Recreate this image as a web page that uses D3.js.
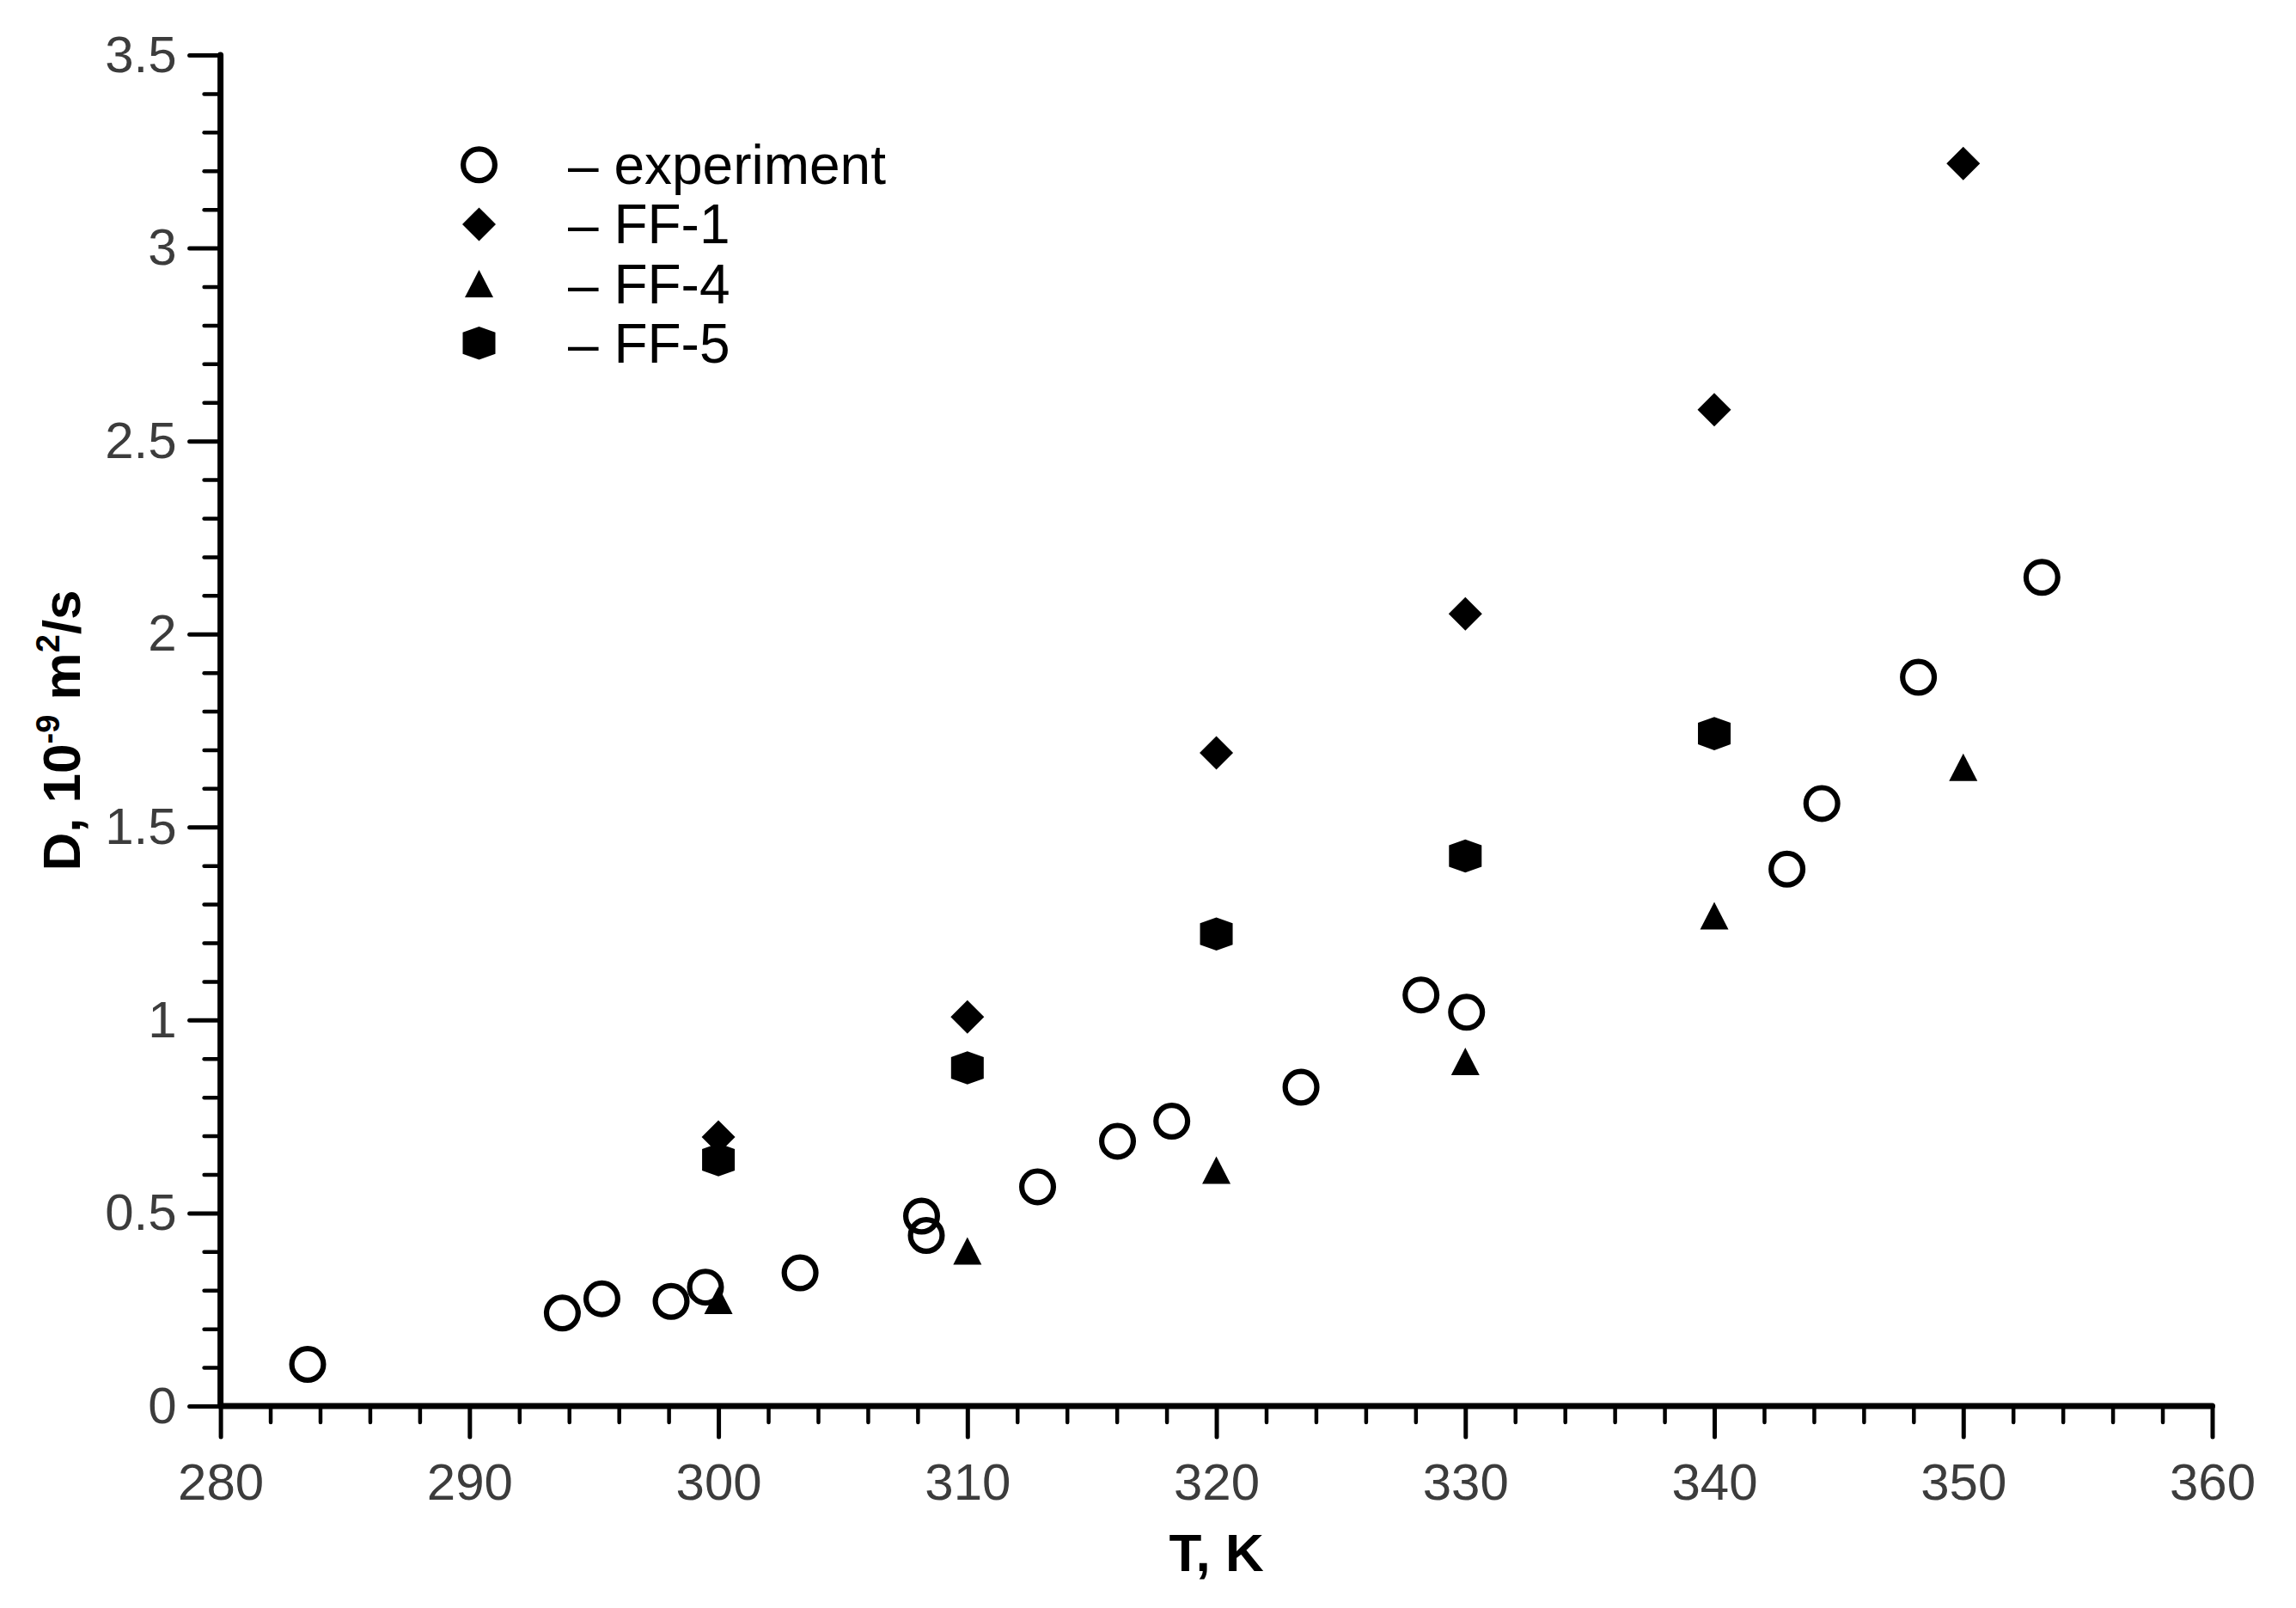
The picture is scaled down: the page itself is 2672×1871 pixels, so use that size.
<!DOCTYPE html>
<html>
<head>
<meta charset="utf-8">
<script src="https://cdn.jsdelivr.net/npm/d3@7"></script>
<style>
  body { margin: 0; background: #fff; }
  text { font-family: "Liberation Sans", Arial, sans-serif; }
</style>
</head>
<body>
<script>
// Data
var expT = [283.50, 293.73, 295.32, 298.10, 299.48, 303.28, 308.16, 308.35, 312.82, 316.03, 318.21, 323.40, 328.22, 330.05, 342.92, 344.32, 348.20, 353.16];
var expD = [0.108, 0.241, 0.278, 0.271, 0.308, 0.345, 0.492, 0.442, 0.568, 0.686, 0.738, 0.826, 1.065, 1.020, 1.391, 1.561, 1.888, 2.147];

var ff1T = [300, 310, 320, 330, 340, 350];
var ff1D = [0.697, 1.008, 1.692, 2.052, 2.581, 3.219];

var ff4T = [300, 310, 320, 330, 340, 350];
var ff4D = [0.274, 0.402, 0.611, 0.893, 1.270, 1.655];

var ff5T = [300, 310, 320, 330, 340];
var ff5D = [0.638, 0.876, 1.223, 1.425, 1.742];

var xTicks = [280, 290, 300, 310, 320, 330, 340, 350, 360];
var yTicks = [0, 0.5, 1, 1.5, 2, 2.5, 3, 3.5];
var legendLabels = ["experiment", "FF-1", "FF-4", "FF-5"];

// Set the dimensions and margins of the graph
var margin = {top: 64, right: 97.5, bottom: 235, left: 256.6},
    width = 2672 - margin.left - margin.right,
    height = 1871 - margin.top - margin.bottom;

var svg = d3.select("body")
  .append("svg")
    .attr("width", 2672)
    .attr("height", 1871)
  .append("g")
    .attr("transform", "translate(" + margin.left + "," + margin.top + ")");

var x = d3.scaleLinear().domain([280, 360]).range([0, width]);
var y = d3.scaleLinear().domain([0, 3.5]).range([height, 0]);

// marker shapes
var shapes = {
  circle: null,
  diamond: "M0,-19.5L19.5,0L0,19.5L-19.5,0Z",
  triangle: "M0,-16L16.5,16L-16.5,16Z",
  hexagon: "M0,-19.3L19,-12.5L19,12.5L0,19.3L-19,12.5L-19,-12.5Z"
};

function styleAxis(g, sw) {
  g.selectAll(".domain").remove();
  g.selectAll(".tick line")
    .attr("stroke", "#000")
    .attr("stroke-width", sw)
    .attr("stroke-linecap", "round");
  g.selectAll("text")
    .attr("fill", "#3c3c3c")
    .attr("font-size", 60);
}

// minor ticks
var xMinor = d3.range(280, 361, 2).filter(function(d) { return d % 10 !== 0; });
var yMinor = d3.range(0, 36).filter(function(d) { return d % 5 !== 0; }).map(function(d) { return d / 10; });

svg.append("g")
  .attr("transform", "translate(0," + height + ")")
  .call(d3.axisBottom(x).tickValues(xMinor).tickSize(19).tickSizeOuter(0).tickFormat(""))
  .call(styleAxis, 4.5);

svg.append("g")
  .call(d3.axisLeft(y).tickValues(yMinor).tickSize(19).tickSizeOuter(0).tickFormat(""))
  .call(styleAxis, 4.5);

// major ticks with labels
svg.append("g")
  .attr("transform", "translate(0," + height + ")")
  .call(d3.axisBottom(x).tickValues(xTicks).tickSize(36).tickPadding(30).tickSizeOuter(0)
    .tickFormat(function(d) { return String(d); }))
  .call(styleAxis, 5);

svg.append("g")
  .call(d3.axisLeft(y).tickValues(yTicks).tickSize(36).tickPadding(15).tickSizeOuter(0)
    .tickFormat(function(d) { return String(d); }))
  .call(styleAxis, 5);

// axis lines
svg.append("line")
  .attr("x1", 0).attr("x2", width)
  .attr("y1", height).attr("y2", height)
  .attr("stroke", "#000").attr("stroke-width", 7).attr("stroke-linecap", "round");
svg.append("line")
  .attr("x1", 0).attr("x2", 0)
  .attr("y1", 0).attr("y2", height)
  .attr("stroke", "#000").attr("stroke-width", 7).attr("stroke-linecap", "round");

// axis titles
svg.append("text")
  .attr("x", width / 2)
  .attr("y", 1828 - margin.top)
  .attr("text-anchor", "middle")
  .attr("font-size", 62)
  .attr("font-weight", "bold")
  .text("T, K");

var yTitle = svg.append("text")
  .attr("transform", "translate(" + (93 - margin.left) + "," + height / 2 + ") rotate(-90)")
  .attr("text-anchor", "middle")
  .attr("font-size", 62)
  .attr("font-weight", "bold");
yTitle.append("tspan").text("D, 10");
yTitle.append("tspan").attr("font-size", 38).attr("dy", -24).text("-9");
yTitle.append("tspan").attr("dy", 24).text(" m");
yTitle.append("tspan").attr("font-size", 38).attr("dy", -24).text("2");
yTitle.append("tspan").attr("dy", 24).text("/s");

function zip(a, b) { return a.map(function(v, i) { return [v, b[i]]; }); }

// experiment (hollow circles)
svg.selectAll(".exp")
  .data(zip(expT, expD))
  .enter()
  .append("circle")
    .attr("class", "exp")
    .attr("cx", function(d) { return x(d[0]); })
    .attr("cy", function(d) { return y(d[1]); })
    .attr("r", 18.4)
    .attr("fill", "none")
    .attr("stroke", "#000")
    .attr("stroke-width", 6.2);

function drawShape(cls, path, tArr, dArr) {
  svg.selectAll("." + cls)
    .data(zip(tArr, dArr))
    .enter()
    .append("path")
      .attr("class", cls)
      .attr("d", path)
      .attr("fill", "#000")
      .attr("transform", function(d) { return "translate(" + x(d[0]) + "," + y(d[1]) + ")"; });
}
drawShape("ff1", shapes.diamond, ff1T, ff1D);
drawShape("ff4", shapes.triangle, ff4T, ff4D);
drawShape("ff5", shapes.hexagon, ff5T, ff5D);

// legend
var legendShapes = ["circle", "diamond", "triangle", "hexagon"];
var legend = svg.append("g")
  .attr("transform", "translate(" + (557.5 - margin.left) + "," + (191.7 - margin.top) + ")");

var rows = legend.selectAll(".row")
  .data(legendLabels)
  .enter()
  .append("g")
    .attr("class", "row")
    .attr("transform", function(d, i) { return "translate(0," + i * 69.2 + ")"; });

rows.each(function(d, i) {
  var g = d3.select(this);
  if (legendShapes[i] === "circle") {
    g.append("circle").attr("r", 18.4).attr("fill", "none")
      .attr("stroke", "#000").attr("stroke-width", 6.2);
  } else {
    g.append("path").attr("d", shapes[legendShapes[i]]).attr("fill", "#000");
  }
  g.append("text")
    .attr("x", 103.5)
    .attr("y", 22.5)
    .attr("font-size", 64)
    .attr("fill", "#000")
    .text("\u2013 " + d);
});
</script>
</body>
</html>
